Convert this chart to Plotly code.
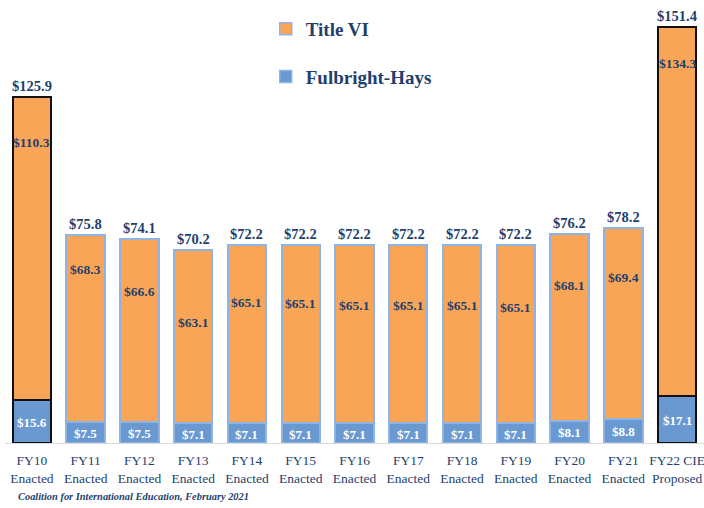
import plotly.graph_objects as go

categories = ["FY10<br>Enacted", "FY11<br>Enacted", "FY12<br>Enacted", "FY13<br>Enacted",
              "FY14<br>Enacted", "FY15<br>Enacted", "FY16<br>Enacted", "FY17<br>Enacted",
              "FY18<br>Enacted", "FY19<br>Enacted", "FY20<br>Enacted", "FY21<br>Enacted",
              "FY22 CIE<br>Proposed"]
fulbright_hays = [15.6, 7.5, 7.5, 7.1, 7.1, 7.1, 7.1, 7.1, 7.1, 7.1, 8.1, 8.8, 17.1]
title_vi = [110.3, 68.3, 66.6, 63.1, 65.1, 65.1, 65.1, 65.1, 65.1, 65.1, 68.1, 69.4, 134.3]
totals = [125.9, 75.8, 74.1, 70.2, 72.2, 72.2, 72.2, 72.2, 72.2, 72.2, 76.2, 78.2, 151.4]

# where the Title VI value labels sit (data units), as in the original
title_label_pos = [109.2, 63.0, 55.3, 44.0, 51.1, 50.9, 49.9, 50.2, 50.2, 49.5, 57.2, 60.3, 138.2]

DARK = "#1F3F6E"
VAL_FONT = "Liberation Serif"
outline = ["#111111" if c.startswith("FY10") or c.startswith("FY22") else "#8DB4E2" for c in categories]

fig = go.Figure()
fig.add_trace(go.Bar(
    x=categories, y=fulbright_hays, name="Fulbright-Hays", legendgroup="fh",
    marker=dict(color="#6A99D2", line=dict(color=outline, width=2)),
    hoverinfo="skip", showlegend=False,
))
fig.add_trace(go.Bar(
    x=categories, y=title_vi, name="Title VI", legendgroup="t6",
    marker=dict(color="#F9A558", line=dict(color=outline, width=2)),
    hoverinfo="skip", showlegend=False,
))
# legend entries (styled like the original legend keys)
fig.add_trace(go.Bar(x=[None], y=[None], name="Title VI", legendgroup="t6",
                     marker=dict(color="#F9A558", line=dict(color="#8DB4E2", width=1.5))))
fig.add_trace(go.Bar(x=[None], y=[None], name="Fulbright-Hays", legendgroup="fh",
                     marker=dict(color="#6A99D2", line=dict(color="#8DB4E2", width=1.5))))

annotations = []
for c, v in zip(categories, fulbright_hays):
    annotations.append(dict(x=c, y=v / 2, text=f"${v:.1f}", showarrow=False, yshift=-1,
                            font=dict(color="white", size=13, family=VAL_FONT, weight="bold")))
for c, v, p in zip(categories, title_vi, title_label_pos):
    annotations.append(dict(x=c, y=p, text=f"${v:.1f}", showarrow=False,
                            font=dict(color=DARK, size=13.5, family=VAL_FONT, weight="bold")))
for c, t in zip(categories, totals):
    annotations.append(dict(x=c, y=t, text=f"${t:.1f}", showarrow=False, yanchor="bottom", yshift=1,
                            font=dict(color=DARK, size=14.5, family=VAL_FONT, weight="bold")))
annotations.append(dict(xref="paper", yref="paper", x=0.016, y=-0.124, xanchor="left", yanchor="middle",
                        text="<b><i>Coalition for International Education, February 2021</i></b>",
                        showarrow=False, font=dict(color=DARK, size=10.4, family="Liberation Serif")))

fig.update_layout(
    width=704, height=508,
    margin=dict(l=5, r=0, t=10, b=65),
    barmode="stack", bargap=0.285,
    plot_bgcolor="white", paper_bgcolor="white",
    showlegend=True,
    legend=dict(x=0.373, y=1.0, xanchor="left", yanchor="top", orientation="v",
                traceorder="grouped", tracegroupgap=20,
                font=dict(family="Liberation Serif", size=19, color=DARK, weight="bold"),
                bgcolor="rgba(0,0,0,0)"),
    xaxis=dict(showline=True, linecolor="#D9D9D9", linewidth=1, ticks="",
               ticklabelstandoff=5,
               tickfont=dict(family="Liberation Serif", size=13.5, color=DARK)),
    yaxis=dict(range=[0, 157.6], visible=False, showgrid=False),
    annotations=annotations,
)

fig.write_html("out.html")
